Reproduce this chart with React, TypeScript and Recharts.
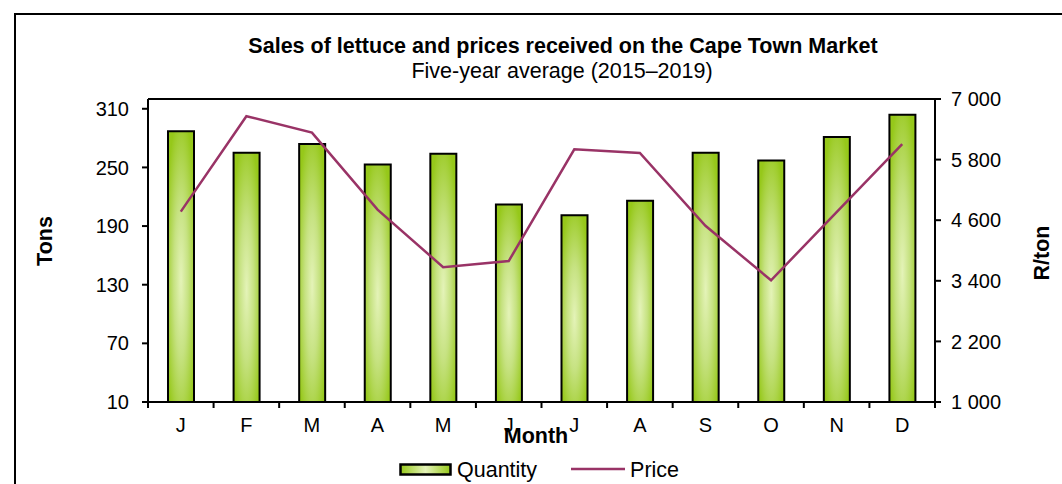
import { Bar, ComposedChart, Line, ReferenceLine, XAxis, YAxis } from 'recharts'

const MONTHS = ['J', 'F', 'M', 'A', 'M', 'J', 'J', 'A', 'S', 'O', 'N', 'D']
const QUANTITY = [287, 265, 274, 253, 264, 212, 201, 216, 265, 257, 281, 304]
const PRICE = [4770, 6660, 6335, 4810, 3670, 3790, 6005, 5930, 4490, 3410, 4760, 6105]
const TONS_TICKS = [10, 70, 130, 190, 250, 310]
const RAND_TICKS = [1000, 2200, 3400, 4600, 5800, 7000]

const W = 1062
const H = 484
const PLOT_LEFT = 148
const PLOT_RIGHT = 935
const PLOT_TOP = 99
const PLOT_BOTTOM = 402
const LEFT_AXIS_W = 60
const RIGHT_AXIS_W = 80
const X_AXIS_H = 40
const FONT = '"Liberation Sans", Arial, Helvetica, sans-serif'
const PLUM = '#993366'

const data = MONTHS.map((m, i) => ({ month: m, quantity: QUANTITY[i], price: PRICE[i] }))

const spaced = (v: number) => String(v).replace(/\B(?=(\d{3})+(?!\d))/g, ' ')

const halfBand = (PLOT_RIGHT - PLOT_LEFT) / MONTHS.length / 2

function MonthTick(props: any) {
  const { x, y, payload, index } = props
  const off = payload?.offset || halfBand
  return (
    <g>
      <line x1={x - off} x2={x - off} y1={PLOT_BOTTOM} y2={PLOT_BOTTOM + 6} stroke="#000" strokeWidth={2} />
      {index === MONTHS.length - 1 && (
        <line x1={x + off} x2={x + off} y1={PLOT_BOTTOM} y2={PLOT_BOTTOM + 6} stroke="#000" strokeWidth={2} />
      )}
      <text x={x} y={y} dy="0.71em" textAnchor="middle" fontSize={20} fontFamily={FONT} fill="#000">
        {payload.value}
      </text>
    </g>
  )
}

export default function App() {
  return (
    <div style={{ position: 'absolute', left: 0, top: 0, width: W, height: H, overflow: 'hidden', background: '#fff', fontFamily: FONT }}>
      <div style={{ position: 'absolute', left: 14, top: 13, width: 1100, height: 520, border: '2px solid #000' }} />

      <div style={{ position: 'absolute', left: 0, width: 1126, top: 34, textAlign: 'center', fontSize: 21.5, fontWeight: 'bold', lineHeight: '24px' }}>
        Sales of lettuce and prices received on the Cape Town Market
      </div>
      <div style={{ position: 'absolute', left: 0, width: 1124, top: 59, textAlign: 'center', fontSize: 21.5, lineHeight: '24px' }}>
        Five-year average (2015–2019)
      </div>

      <div style={{ position: 'absolute', left: 0, top: 0 }}>
        <ComposedChart
          width={W}
          height={H}
          data={data}
          margin={{
            top: PLOT_TOP,
            left: PLOT_LEFT - LEFT_AXIS_W,
            right: W - PLOT_RIGHT - RIGHT_AXIS_W,
            bottom: H - PLOT_BOTTOM - X_AXIS_H,
          }}
        >
          <defs>
            <radialGradient id="barGrad" cx="0.5" cy="0.55" r="0.62">
              <stop offset="0%" stopColor="#e4f3b8" />
              <stop offset="45%" stopColor="#c6e281" />
              <stop offset="100%" stopColor="#96c81a" />
            </radialGradient>
          </defs>
          <XAxis
            dataKey="month"
            height={X_AXIS_H}
            axisLine={{ stroke: '#000', strokeWidth: 2 }}
            tickLine={false}
            tickSize={6}
            tickMargin={10}
            tick={<MonthTick />}
            interval={0}
          />
          <YAxis
            yAxisId="tons"
            orientation="left"
            width={LEFT_AXIS_W}
            domain={[10, 320]}
            ticks={TONS_TICKS}
            interval={0}
            axisLine={{ stroke: '#000', strokeWidth: 2 }}
            tickLine={{ stroke: '#000', strokeWidth: 2 }}
            tickSize={6}
            tickMargin={13}
            tick={{ fill: '#000', fontSize: 20, fontFamily: FONT }}
          />
          <YAxis
            yAxisId="rand"
            orientation="right"
            width={RIGHT_AXIS_W}
            domain={[1000, 7000]}
            ticks={RAND_TICKS}
            interval={0}
            axisLine={{ stroke: '#000', strokeWidth: 2 }}
            tickLine={{ stroke: '#000', strokeWidth: 2 }}
            tickSize={6}
            tickMargin={10}
            tickFormatter={spaced}
            tick={{ fill: '#000', fontSize: 20, fontFamily: FONT }}
          />
          <ReferenceLine yAxisId="tons" y={320} stroke="#000" strokeWidth={2} />
          <Bar
            yAxisId="tons"
            dataKey="quantity"
            name="Quantity"
            barSize={26}
            fill="url(#barGrad)"
            stroke="#000"
            strokeWidth={2}
            isAnimationActive={false}
          />
          <Line
            yAxisId="rand"
            type="linear"
            dataKey="price"
            name="Price"
            stroke={PLUM}
            strokeWidth={2.5}
            dot={false}
            activeDot={false}
            isAnimationActive={false}
          />
        </ComposedChart>
      </div>

      <div style={{ position: 'absolute', left: 20, top: 229, width: 50, textAlign: 'center', fontSize: 21.5, fontWeight: 'bold', transform: 'rotate(-90deg)', lineHeight: '24px' }}>
        Tons
      </div>
      <div style={{ position: 'absolute', left: 1010, top: 241, width: 64, textAlign: 'center', fontSize: 21.5, fontWeight: 'bold', transform: 'rotate(-90deg)', lineHeight: '24px' }}>
        R/ton
      </div>
      <div style={{ position: 'absolute', left: 486, top: 424, width: 100, textAlign: 'center', fontSize: 21.5, fontWeight: 'bold', lineHeight: '24px' }}>
        Month
      </div>

      <div style={{ position: 'absolute', top: 458, left: 399, height: 24, display: 'flex', alignItems: 'center', fontSize: 21.5 }}>
        <svg width={54} height={14} style={{ display: 'block' }}>
          <defs>
            <linearGradient id="legGrad" x1="0" y1="0" x2="1" y2="0">
              <stop offset="0%" stopColor="#96c81a" />
              <stop offset="50%" stopColor="#e4f3b8" />
              <stop offset="100%" stopColor="#96c81a" />
            </linearGradient>
          </defs>
          <rect x={1.5} y={1.5} width={50} height={10} fill="url(#legGrad)" stroke="#000" strokeWidth={2.5} />
        </svg>
        <span style={{ marginLeft: 4 }}>Quantity</span>
        <svg width={54} height={14} style={{ display: 'block', marginLeft: 34 }}>
          <line x1={0} x2={54} y1={6} y2={6} stroke={PLUM} strokeWidth={2.5} />
        </svg>
        <span style={{ marginLeft: 5 }}>Price</span>
      </div>
    </div>
  )
}
